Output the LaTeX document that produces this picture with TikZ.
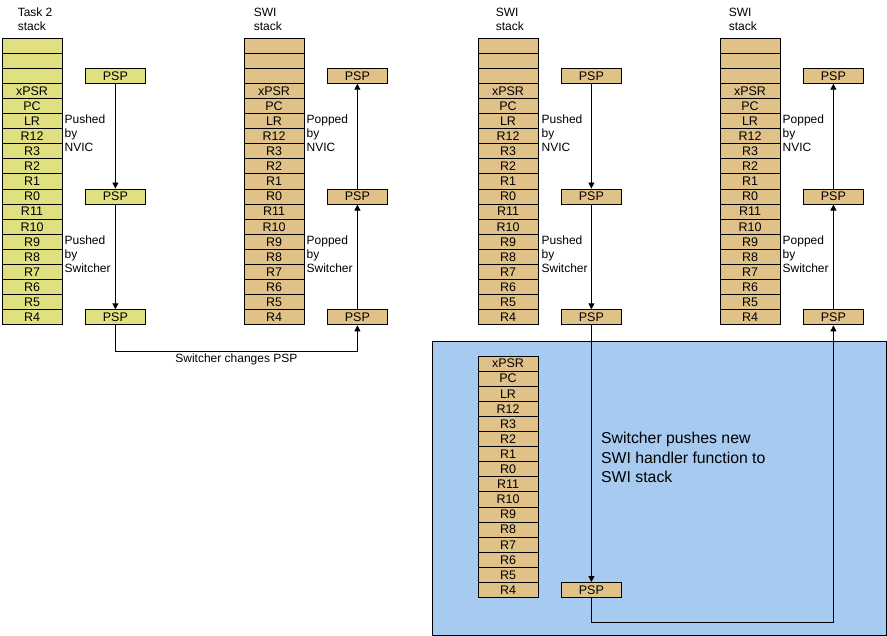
\documentclass[tikz,border=0pt]{standalone}
\usepackage{fontspec}
\setmainfont{Liberation Sans}
\usetikzlibrary{positioning,arrows.meta}

\definecolor{taskyellow}{RGB}{224,224,128}
\definecolor{switan}{RGB}{224,194,136}
\definecolor{panelblue}{RGB}{166,202,240}

\tikzset{
  reg/.style={draw, line width=0.9pt, fill=#1, minimum width=60pt, minimum height=15.1pt,
    inner sep=0pt, font=\fontsize{12.5}{14}\selectfont},
  note/.style={align=left, inner sep=0pt, font=\fontsize{12}{14}\selectfont},
  arr/.style={line width=0.9pt, -{Triangle[length=6pt,width=6pt]}},
}

\begin{document}
\begin{tikzpicture}[x=1pt, y=-1pt]
    \useasboundingbox (0,0) rectangle (887,636);
    % panel behind the new SWI frame
    \filldraw [fill=panelblue, line width=0.9pt] (432,341) rectangle (886,635);

    % the four stacks
    \foreach \r [count=\i from 0] in {{},{},{},xPSR,PC,LR,R12,R3,R2,R1,R0,R11,R10,R9,R8,R7,R6,R5,R4} {
      \node [reg=taskyellow] (task\i) at (32,38+15.1*\i+7.55) {\r};
      \node [reg=switan] (swia\i) at (274,38+15.1*\i+7.55) {\r};
      \node [reg=switan] (swib\i) at (508,38+15.1*\i+7.55) {\r};
      \node [reg=switan] (swic\i) at (750,38+15.1*\i+7.55) {\r};
    }
    \foreach \r [count=\i from 0] in {xPSR,PC,LR,R12,R3,R2,R1,R0,R11,R10,R9,R8,R7,R6,R5,R4}
      \node [reg=switan] (new\i) at (508,356+15.1*\i+7.55) {\r};

    % titles
    \node [note, anchor=south west] at ([xshift=16pt, yshift=7pt]task0.north west) {Task 2\\stack};
    \node [note, anchor=south west] at ([xshift=10pt, yshift=7pt]swia0.north west) {SWI\\stack};
    \node [note, anchor=south west] at ([xshift=18pt, yshift=7pt]swib0.north west) {SWI\\stack};
    \node [note, anchor=south west] at ([xshift=9pt, yshift=7pt]swic0.north west) {SWI\\stack};

    % PSP positions
    \node [reg=taskyellow, right=22.5pt of task2] (tpsp1) {PSP};
    \node [reg=taskyellow, right=22.5pt of task10] (tpsp2) {PSP};
    \node [reg=taskyellow, right=22.5pt of task18] (tpsp3) {PSP};
    \node [reg=switan, right=22.5pt of swia2] (apsp1) {PSP};
    \node [reg=switan, right=22.5pt of swia10] (apsp2) {PSP};
    \node [reg=switan, right=22.5pt of swia18] (apsp3) {PSP};
    \node [reg=switan, right=22.5pt of swib2] (bpsp1) {PSP};
    \node [reg=switan, right=22.5pt of swib10] (bpsp2) {PSP};
    \node [reg=switan, right=22.5pt of swib18] (bpsp3) {PSP};
    \node [reg=switan, right=22.5pt of swic2] (cpsp1) {PSP};
    \node [reg=switan, right=22.5pt of swic10] (cpsp2) {PSP};
    \node [reg=switan, right=22.5pt of swic18] (cpsp3) {PSP};
    \node [reg=switan, right=22.5pt of new15] (npsp) {PSP};

    % side notes
    \node [note, anchor=north west] at ([xshift=2pt, yshift=-2pt]task5.north east) {Pushed\\by\\NVIC};
    \node [note, anchor=north west] at ([xshift=2pt, yshift=-2pt]task13.north east) {Pushed\\by\\Switcher};
    \node [note, anchor=north west] at ([xshift=2pt, yshift=-2pt]swia5.north east) {Popped\\by\\NVIC};
    \node [note, anchor=north west] at ([xshift=2pt, yshift=-2pt]swia13.north east) {Popped\\by\\Switcher};
    \node [note, anchor=north west] at ([xshift=3pt, yshift=-2pt]swib5.north east) {Pushed\\by\\NVIC};
    \node [note, anchor=north west] at ([xshift=3pt, yshift=-2pt]swib13.north east) {Pushed\\by\\Switcher};
    \node [note, anchor=north west] at ([xshift=2pt, yshift=-2pt]swic5.north east) {Popped\\by\\NVIC};
    \node [note, anchor=north west] at ([xshift=2pt, yshift=-2pt]swic13.north east) {Popped\\by\\Switcher};
    \node [note, anchor=north west, font=\fontsize{15.8}{19.5}\selectfont] (pushnew) at (601,432)
      {Switcher pushes new\\SWI handler function to\\SWI stack};

    % PSP moves
    \draw [arr] (tpsp1) -- (tpsp2);
    \draw [arr] (tpsp2) -- (tpsp3);
    \draw [arr] (apsp2) -- (apsp1);
    \draw [arr] (apsp3) -- (apsp2);
    \draw [arr] (tpsp3.south) -- ++(0,26) -| node [pos=0.25, below=2pt, note] {Switcher changes PSP} (apsp3);
    \draw [arr] (bpsp1) -- (bpsp2);
    \draw [arr] (bpsp2) -- (bpsp3);
    \draw [arr] (bpsp3) -- (npsp);
    \draw [arr] (npsp.south) -- ++(0,24) -| (cpsp3);
    \draw [arr] (cpsp3) -- (cpsp2);
    \draw [arr] (cpsp2) -- (cpsp1);
\end{tikzpicture}
\end{document}
